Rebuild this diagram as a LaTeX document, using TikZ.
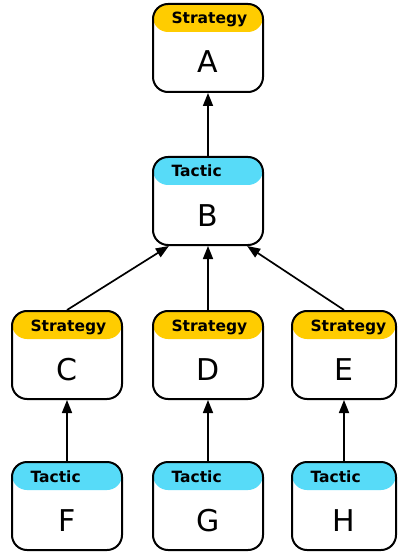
\documentclass[tikz,border=0pt]{standalone}
\usepackage{fontspec}
\usepackage{tikz}
\usetikzlibrary{arrows.meta,calc}
\newfontfamily\boxfont{DejaVu Sans}
\definecolor{ink}{HTML}{000000}
\definecolor{strat}{HTML}{FFCC00}
\definecolor{tact}{HTML}{57DBF8}

\begin{document}
\begin{tikzpicture}[x=1pt,y=-1pt,
  box/.style={draw=ink,fill=white,line width=2pt,rounded corners=15pt,
    minimum width=110pt,minimum height=88pt,inner sep=0pt,
    font=\boxfont\fontsize{30}{30}\selectfont,text height=50pt,text depth=0pt},
  hdr/.style={font=\boxfont\bfseries\fontsize{15.5}{15.5}\selectfont,anchor=base west,
    xshift=16pt,yshift=-21pt},
  stratbox/.style={box,path picture={\fill[strat] (path picture bounding box.north west)
    rectangle ([yshift=-28pt]path picture bounding box.north east);},
    label={[hdr]north west:Strategy}},
  tactbox/.style={box,path picture={\fill[tact] (path picture bounding box.north west)
    rectangle ([yshift=-28pt]path picture bounding box.north east);},
    label={[hdr]north west:Tactic}},
  arr/.style={-{Triangle[length=13pt,width=10pt]},line width=1.7pt,draw=ink}]
  \useasboundingbox (0,0) rectangle (397,553);
  % goal chain
  \node[stratbox] (A) at (208,48) {A};
  \node[tactbox] (B) at (208,201) {B};
  \node[stratbox] (C) at (67,355) {C};
  \node[stratbox] (D) at (208,355) {D};
  \node[stratbox,minimum width=104pt] (E) at (344,355) {E};
  \node[tactbox] (F) at (67,506) {F};
  \node[tactbox] (G) at (208,506) {G};
  \node[tactbox,minimum width=104pt] (H) at (344,506) {H};
  % links
  \draw[arr] (B) -- (A);
  \draw[arr] (C.north) -- (B.229);
  \draw[arr] (D) -- (B);
  \draw[arr] (E.north) -- (B.311);
  \draw[arr] (F) -- (C);
  \draw[arr] (G) -- (D);
  \draw[arr] (H) -- (E);
\end{tikzpicture}
\end{document}
